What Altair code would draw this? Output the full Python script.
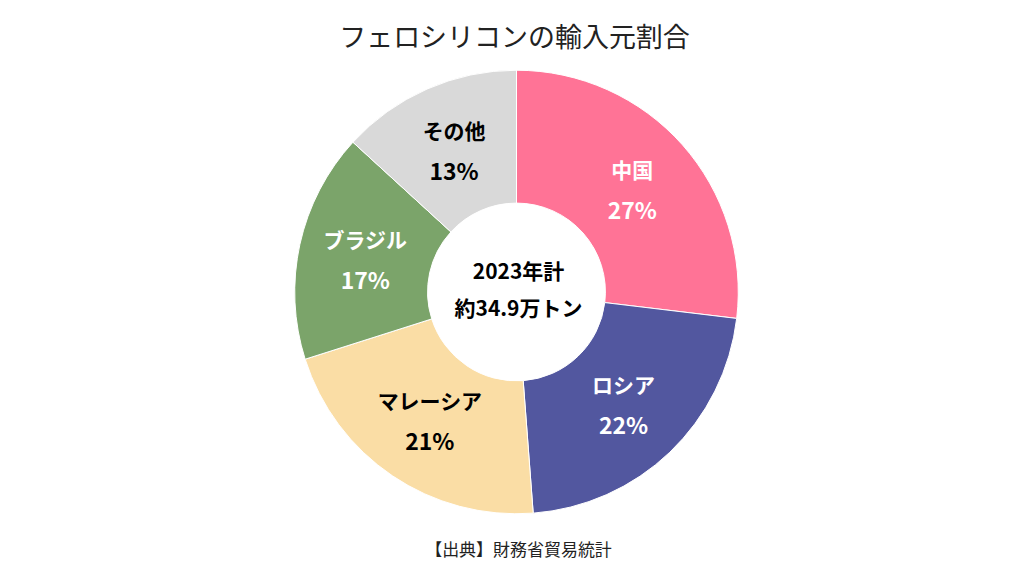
import altair as alt
import pandas as pd

countries = ["中国", "ロシア", "マレーシア", "ブラジル", "その他"]
shares = [26.9, 21.9, 21.3, 16.7, 13.2]
pct_labels = ["27%", "22%", "21%", "17%", "13%"]
colors = ["#FF7396", "#52579F", "#FADDA5", "#7BA46A", "#D9D9D9"]
text_colors = ["#FFFFFF", "#FFFFFF", "#000000", "#FFFFFF", "#000000"]

title_text = "フェロシリコンの輸入元割合"
center_lines = ["2023年計", "約34.9万トン"]
source_text = "【出典】財務省貿易統計"

FONT = "Noto Sans CJK JP"

df = pd.DataFrame({
    "country": countries,
    "share": shares,
    "pct": pct_labels,
    "order": list(range(len(countries))),
    "tcolor": text_colors,
})

W, H = 1000, 540

base = alt.Chart(df).encode(
    theta=alt.Theta("share:Q", stack=True),
    order=alt.Order("order:Q"),
)

arcs = base.mark_arc(outerRadius=222, innerRadius=89, stroke="white", strokeWidth=1).encode(
    color=alt.Color("country:N", scale=alt.Scale(domain=countries, range=colors), legend=None),
)

names = base.mark_text(radius=155, dy=-17, font=FONT, fontSize=21, fontWeight="bold").encode(
    text="country:N",
    color=alt.Color("tcolor:N", scale=None),
)
pcts = base.mark_text(radius=155, dy=23, font=FONT, fontSize=23, fontWeight="bold").encode(
    text="pct:N",
    color=alt.Color("tcolor:N", scale=None),
)

center1 = alt.Chart(pd.DataFrame({"t": [center_lines[0]]})).mark_text(
    font=FONT, fontSize=21, fontWeight="bold", color="black"
).encode(text="t:N", x=alt.value(W / 2 + 2), y=alt.value(H / 2 - 19))
center2 = alt.Chart(pd.DataFrame({"t": [center_lines[1]]})).mark_text(
    font=FONT, fontSize=21, fontWeight="bold", color="black"
).encode(text="t:N", x=alt.value(W / 2 + 2), y=alt.value(H / 2 + 18))

title = alt.Chart(pd.DataFrame({"t": [title_text]})).mark_text(
    font=FONT, fontSize=27, color="#222222"
).encode(text="t:N", x=alt.value(W / 2 - 2), y=alt.value(17))

source = alt.Chart(pd.DataFrame({"t": [source_text]})).mark_text(
    font=FONT, fontSize=17, color="#222222"
).encode(text="t:N", x=alt.value(W / 2 + 2), y=alt.value(529))

chart = alt.layer(arcs, names, pcts, center1, center2, title, source).properties(
    width=W,
    height=H,
    autosize=alt.AutoSizeParams(type="none"),
    padding={"left": 9, "top": 14, "right": 0, "bottom": 0},
    background="white",
).configure_view(stroke=None)

chart.save("out.html", embed_options={"renderer": "svg", "actions": False})
